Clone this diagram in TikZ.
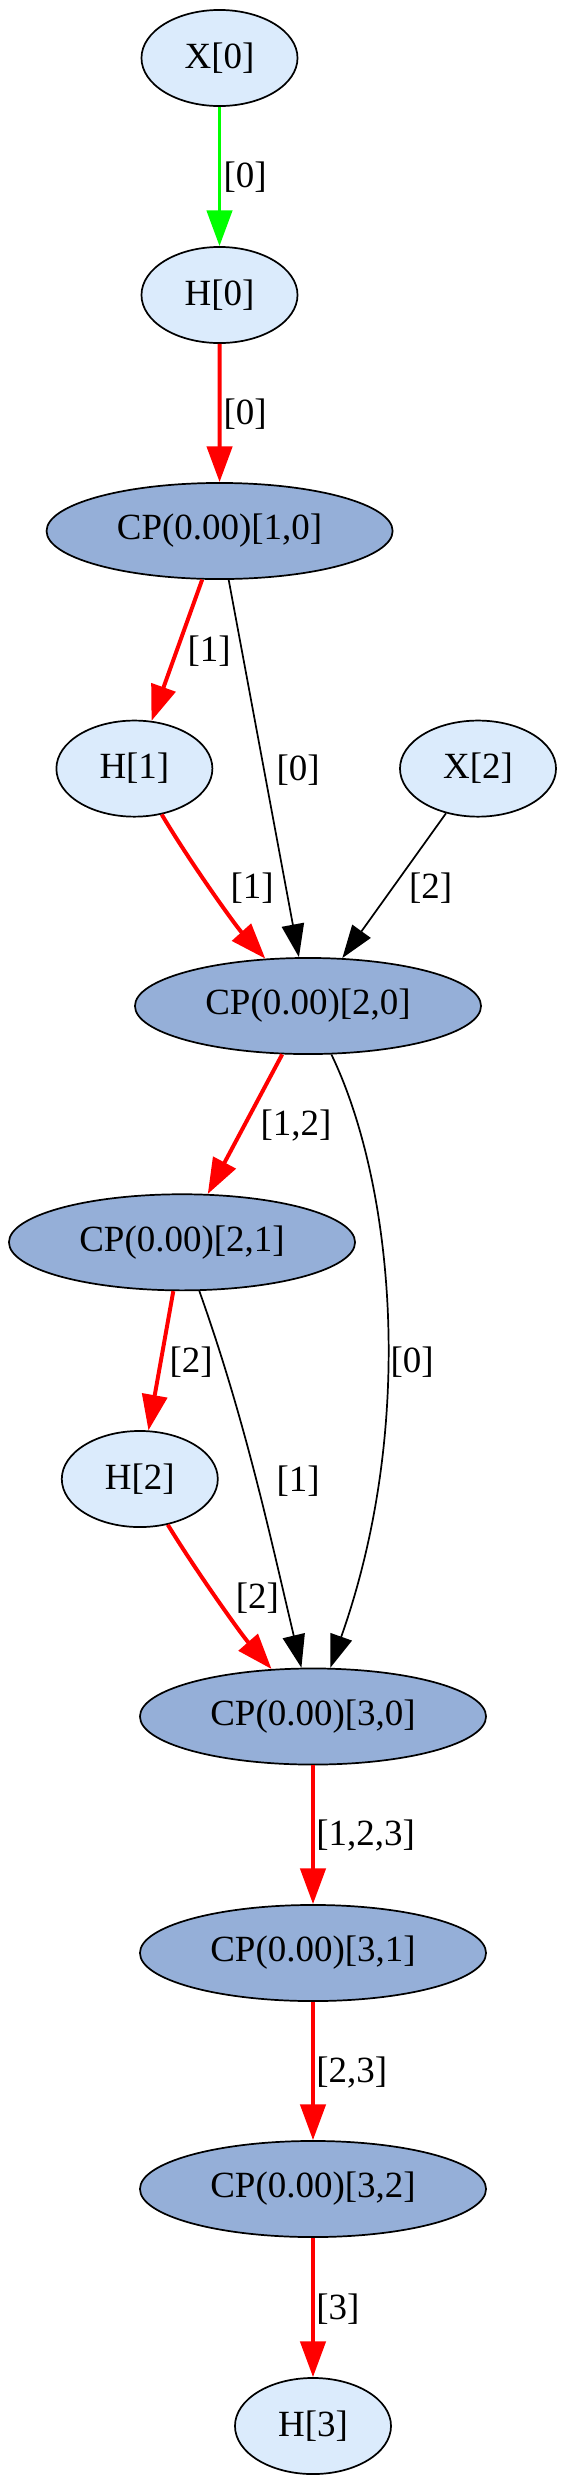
\documentclass[tikz,border=0pt]{standalone}
\usepackage{fontspec}
\setmainfont{Liberation Serif}
\usetikzlibrary{shapes.geometric,arrows.meta}
\definecolor{lightfill}{HTML}{DBEBFC}
\definecolor{cpfill}{HTML}{95AFD8}
\definecolor{gvred}{HTML}{FF0000}
\definecolor{gvgreen}{HTML}{00FF00}
\begin{document}
\begin{tikzpicture}[x=0.3788pt,y=-0.3788pt,
  every node/.style={font=\fontsize{14pt}{16pt}\selectfont},
  smallnode/.style={ellipse,draw=black,line width=0.65pt,fill=lightfill,minimum width=59.1pt,minimum height=36.4pt,inner sep=0pt},
  cpnode/.style={ellipse,draw=black,line width=0.65pt,fill=cpfill,minimum width=131.1pt,minimum height=36.4pt,inner sep=0pt},
  blkedge/.style={draw=black,line width=0.65pt,-{Triangle[length=12.5pt,width=8.5pt]}},
  rededge/.style={draw=gvred,line width=1.5pt,-{Triangle[length=13.5pt,width=9.5pt]}},
  grnedge/.style={draw=gvgreen,line width=1.5pt,-{Triangle[length=13.5pt,width=9.5pt]}},
  lbl/.style={anchor=west,inner sep=0pt}]
\useasboundingbox (0,0) rectangle (568,2486);
% nodes
\node[smallnode] (X0) at (219.5,58) {X[0]};
\node[smallnode] (H0) at (219.5,295) {H[0]};
\node[cpnode] (CP10) at (219.6,531) {CP(0.00)[1,0]};
\node[smallnode] (H1) at (134.4,768.6) {H[1]};
\node[smallnode] (X2) at (478,768.6) {X[2]};
\node[cpnode] (CP20) at (308,1006) {CP(0.00)[2,0]};
\node[cpnode] (CP21) at (182,1242.3) {CP(0.00)[2,1]};
\node[smallnode] (H2) at (139.8,1479) {H[2]};
\node[cpnode] (CP30) at (313,1716.5) {CP(0.00)[3,0]};
\node[cpnode] (CP31) at (313,1953) {CP(0.00)[3,1]};
\node[cpnode] (CP32) at (313,2189) {CP(0.00)[3,2]};
\node[smallnode] (H3) at (313,2426) {H[3]};
% edges
\draw[grnedge] (X0) -- (H0);
\draw[rededge] (H0) -- (CP10);
\draw[rededge] (CP10) -- (H1);
\draw[blkedge] (CP10) -- (CP20);
\draw[rededge] (H1) .. controls (190,862) and (235,925) .. (CP20);
\draw[blkedge] (X2) -- (CP20);
\draw[rededge] (CP20) -- (CP21);
\draw[blkedge] (CP20) .. controls (392,1180) and (418,1420) .. (CP30);
\draw[rededge] (CP21) -- (H2);
\draw[blkedge] (CP21) .. controls (246,1422) and (271,1540) .. (CP30);
\draw[rededge] (H2) .. controls (196.4,1571.5) and (241.4,1634.5) .. (CP30);
\draw[rededge] (CP30) -- (CP31);
\draw[rededge] (CP31) -- (CP32);
\draw[rededge] (CP32) -- (H3);
% labels
\node[lbl] (L1) at (223,177) {[0]};
\node[lbl] (L2) at (223,414) {[0]};
\node[lbl] (L3) at (187,651) {[1]};
\node[lbl] (L4) at (276,770) {[0]};
\node[lbl] (L5) at (230,888.6) {[1]};
\node[lbl] (L6) at (408.6,888.6) {[2]};
\node[lbl] (L7) at (260,1126) {[1,2]};
\node[lbl] (L8) at (169,1362) {[2]};
\node[lbl] (L9) at (390,1362) {[0]};
\node[lbl] (L10) at (276,1481) {[1]};
\node[lbl] (L11) at (235.4,1598.6) {[2]};
\node[lbl] (L12) at (315.8,1835) {[1,2,3]};
\node[lbl] (L13) at (315.8,2072) {[2,3]};
\node[lbl] (L14) at (315.8,2309) {[3]};
\end{tikzpicture}
\end{document}
